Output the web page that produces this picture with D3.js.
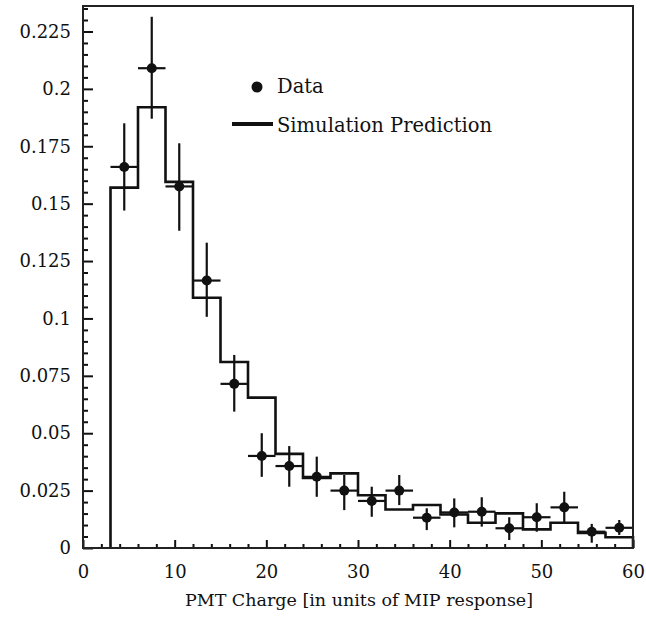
<!DOCTYPE html>
<head>
    <meta charset="UTF-8">
    <title>PMT Charge</title>
</head>
<style>
    body {
        margin: 0;
        background: #fff;
    }

    svg {
        font-family: "DejaVu Serif", "Liberation Serif", serif;
    }

    .axis text {
        font-family: "DejaVu Serif", "Liberation Serif", serif;
        font-size: 18px;
        fill: #111;
    }

    .axis line {
        stroke: #111;
        stroke-width: 2;
    }

    .axis path {
        display: none;
    }

    .legend text {
        font-size: 19.5px;
        fill: #111;
    }
</style>
<body>

    <script src="https://cdn.jsdelivr.net/npm/d3@7/dist/d3.min.js"></script>
    <script>
        // bin edges of the histogram (PMT charge, MIP units)
        var binEdges = [3, 6, 9, 12, 15, 18, 21, 24, 27, 30, 33, 36, 39, 42, 45, 48, 51, 54, 57, 60];

        // simulation prediction, one value per bin
        var simValues = [0.157, 0.192, 0.1595, 0.109, 0.081, 0.0655, 0.041, 0.0305, 0.0325, 0.023,
                         0.0168, 0.0187, 0.0146, 0.011, 0.0151, 0.0081, 0.011, 0.0066, 0.0047];

        // measured data, one point per bin
        var dataValues = [0.166, 0.209, 0.1575, 0.1165, 0.0715, 0.0401, 0.0357, 0.031, 0.025, 0.0205,
                          0.025, 0.0132, 0.0155, 0.0158, 0.0086, 0.0134, 0.0177, 0.0071, 0.0088];
        var dataErrHigh = [0.185, 0.2314, 0.1763, 0.133, 0.0841, 0.05, 0.0444, 0.0398, 0.0318, 0.0267,
                           0.0318, 0.0173, 0.0216, 0.0221, 0.0134, 0.0195, 0.0245, 0.0105, 0.0122];
        var dataErrLow = [0.147, 0.187, 0.1382, 0.1007, 0.0594, 0.031, 0.0267, 0.0223, 0.0165, 0.0136,
                          0.0187, 0.0078, 0.009, 0.0093, 0.0035, 0.0071, 0.0108, 0.0023, 0.0057];

        // axis ticks
        var xTicks = [0, 10, 20, 30, 40, 50, 60];
        var xMinorTicks = [2, 4, 6, 8, 12, 14, 16, 18, 22, 24, 26, 28, 32, 34, 36, 38, 42, 44, 46, 48, 52, 54, 56, 58];
        var yTicks = [0, 0.025, 0.05, 0.075, 0.1, 0.125, 0.15, 0.175, 0.2, 0.225];
        var yTickLabels = ["0", "0.025", "0.05", "0.075", "0.1", "0.125", "0.15", "0.175", "0.2", "0.225"];
        var yMinorTicks = [0.005, 0.01, 0.015, 0.02, 0.03, 0.035, 0.04, 0.045, 0.055, 0.06, 0.065, 0.07,
                           0.08, 0.085, 0.09, 0.095, 0.105, 0.11, 0.115, 0.12, 0.13, 0.135, 0.14, 0.145,
                           0.155, 0.16, 0.165, 0.17, 0.18, 0.185, 0.19, 0.195, 0.205, 0.21, 0.215, 0.22,
                           0.23, 0.235];

        var xLabel = "PMT Charge [in units of MIP response]";
        var legendData = "Data";
        var legendSim = "Simulation Prediction";

        var width = 646,
            height = 621;
        var margin = {top: 6, right: 13, bottom: 73, left: 83};

        var svg = d3.select("body").append("svg")
            .attr("width", width)
            .attr("height", height);

        var x = d3.scaleLinear()
            .domain([0, 60])
            .range([margin.left, width - margin.right]);

        var y = d3.scaleLinear()
            .domain([0, 0.2361])
            .range([height - margin.bottom, margin.top]);

        // minor ticks first, pointing into the plot
        svg.append("g")
            .attr("class", "axis")
            .attr("transform", "translate(0," + y(0) + ")")
            .call(d3.axisBottom(x).tickValues(xMinorTicks).tickSize(-4).tickFormat(""));

        svg.append("g")
            .attr("class", "axis")
            .attr("transform", "translate(0," + y(0) + ")")
            .call(d3.axisBottom(x).tickValues(xTicks).tickSize(-8).tickPadding(17));

        svg.append("g")
            .attr("class", "axis")
            .attr("transform", "translate(" + x(0) + ",0)")
            .call(d3.axisLeft(y).tickValues(yMinorTicks).tickSize(-5).tickFormat(""));

        svg.append("g")
            .attr("class", "axis")
            .attr("transform", "translate(" + x(0) + ",0)")
            .call(d3.axisLeft(y).tickValues(yTicks).tickSize(-10).tickPadding(12)
                .tickFormat(function(d, i) { return yTickLabels[i]; }));

        // histogram of the simulation
        var steps = [[binEdges[0], 0]];
        simValues.forEach(function(v, i) { steps.push([binEdges[i], v]); });
        steps.push([binEdges[binEdges.length - 1], simValues[simValues.length - 1]]);
        steps.push([binEdges[binEdges.length - 1], 0]);

        var line = d3.line()
            .x(function(d) { return x(d[0]); })
            .y(function(d) { return y(d[1]); })
            .curve(d3.curveStepAfter);

        svg.append("path")
            .datum(steps)
            .attr("d", line)
            .attr("fill", "none")
            .attr("stroke", "#111")
            .attr("stroke-width", 2.6);

        // data points with error bars
        var points = dataValues.map(function(v, i) {
            return {lo: binEdges[i], hi: binEdges[i + 1], value: v, errLow: dataErrLow[i], errHigh: dataErrHigh[i]};
        });

        var pt = svg.append("g").selectAll("g")
            .data(points)
            .enter().append("g");

        pt.append("line")
            .attr("x1", function(d) { return x((d.lo + d.hi) / 2); })
            .attr("x2", function(d) { return x((d.lo + d.hi) / 2); })
            .attr("y1", function(d) { return y(d.errLow); })
            .attr("y2", function(d) { return y(d.errHigh); })
            .attr("stroke", "#111")
            .attr("stroke-width", 2.2);

        pt.append("line")
            .attr("x1", function(d) { return x(d.lo); })
            .attr("x2", function(d) { return x(d.hi); })
            .attr("y1", function(d) { return y(d.value); })
            .attr("y2", function(d) { return y(d.value); })
            .attr("stroke", "#111")
            .attr("stroke-width", 2.2);

        pt.append("circle")
            .attr("cx", function(d) { return x((d.lo + d.hi) / 2); })
            .attr("cy", function(d) { return y(d.value); })
            .attr("r", 5)
            .attr("fill", "#111");

        // frame
        svg.append("rect")
            .attr("x", x(0))
            .attr("y", y.range()[1])
            .attr("width", x(60) - x(0))
            .attr("height", y(0) - y.range()[1])
            .attr("fill", "none")
            .attr("stroke", "#222")
            .attr("stroke-width", 2);

        // legend
        var legend = svg.append("g").attr("class", "legend");

        legend.append("circle")
            .attr("cx", 257)
            .attr("cy", 87)
            .attr("r", 5.5)
            .attr("fill", "#111");

        legend.append("text")
            .attr("x", 277)
            .attr("y", 93)
            .text(legendData);

        legend.append("line")
            .attr("x1", 232)
            .attr("x2", 273)
            .attr("y1", 124)
            .attr("y2", 124)
            .attr("stroke", "#111")
            .attr("stroke-width", 4);

        legend.append("text")
            .attr("x", 277)
            .attr("y", 132)
            .text(legendSim);

        // x axis title
        svg.append("text")
            .attr("x", (x(0) + x(60)) / 2 + 1)
            .attr("y", 606)
            .attr("text-anchor", "middle")
            .style("font-size", "17.5px")
            .style("fill", "#111")
            .text(xLabel);
    </script>
</body>
</html>
